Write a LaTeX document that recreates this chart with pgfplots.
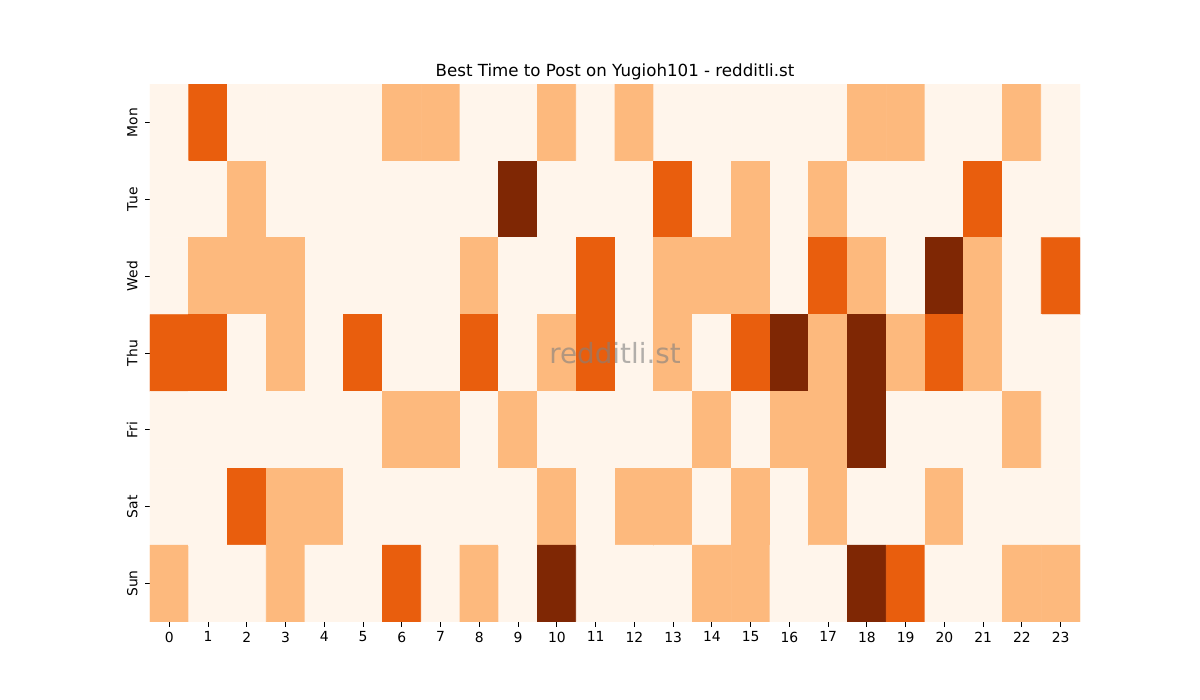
\documentclass[border=0pt]{standalone}
\usepackage{fontspec}
\setmainfont{DejaVu Sans}
\usepackage{pgfplots}
\pgfplotsset{compat=1.18}
\begin{document}
\begin{tikzpicture}
\begin{axis}[
  scale only axis,
  width=669.6pt, height=387.36pt,
  xmin=-0.5, xmax=23.5, ymin=-0.5, ymax=6.5,
  y dir=reverse,
  enlargelimits=false,
  axis line style={draw=none},
  xtick={0,...,23},
  ytick={0,...,6},
  yticklabels={Mon,Tue,Wed,Thu,Fri,Sat,Sun},
  yticklabel style={rotate=90, anchor=south, yshift=2pt, font=\fontsize{10}{12}\selectfont},
  xticklabel style={font=\fontsize{10}{12}\selectfont},
  /pgf/number format/assume math mode=true,
  tick align=outside,
  xtick pos=bottom, ytick pos=left,
  major tick length=3.5pt,
  tick style={black, line width=0.6pt},
  title={Best Time to Post on Yugioh101 - redditli.st},
  title style={font=\fontsize{12}{14}\selectfont, yshift=-6.3pt},
  colormap={heat}{rgb255=(255,245,235) rgb255=(253,185,125) rgb255=(233,94,13) rgb255=(127,39,4)},
  point meta min=0, point meta max=3,
]
\addplot[matrix plot*, mesh/cols=24, point meta=explicit] table[meta=c] {
x y c
0 0 0
1 0 2
2 0 0
3 0 0
4 0 0
5 0 0
6 0 1
7 0 1
8 0 0
9 0 0
10 0 1
11 0 0
12 0 1
13 0 0
14 0 0
15 0 0
16 0 0
17 0 0
18 0 1
19 0 1
20 0 0
21 0 0
22 0 1
23 0 0
0 1 0
1 1 0
2 1 1
3 1 0
4 1 0
5 1 0
6 1 0
7 1 0
8 1 0
9 1 3
10 1 0
11 1 0
12 1 0
13 1 2
14 1 0
15 1 1
16 1 0
17 1 1
18 1 0
19 1 0
20 1 0
21 1 2
22 1 0
23 1 0
0 2 0
1 2 1
2 2 1
3 2 1
4 2 0
5 2 0
6 2 0
7 2 0
8 2 1
9 2 0
10 2 0
11 2 2
12 2 0
13 2 1
14 2 1
15 2 1
16 2 0
17 2 2
18 2 1
19 2 0
20 2 3
21 2 1
22 2 0
23 2 2
0 3 2
1 3 2
2 3 0
3 3 1
4 3 0
5 3 2
6 3 0
7 3 0
8 3 2
9 3 0
10 3 1
11 3 2
12 3 0
13 3 1
14 3 0
15 3 2
16 3 3
17 3 1
18 3 3
19 3 1
20 3 2
21 3 1
22 3 0
23 3 0
0 4 0
1 4 0
2 4 0
3 4 0
4 4 0
5 4 0
6 4 1
7 4 1
8 4 0
9 4 1
10 4 0
11 4 0
12 4 0
13 4 0
14 4 1
15 4 0
16 4 1
17 4 1
18 4 3
19 4 0
20 4 0
21 4 0
22 4 1
23 4 0
0 5 0
1 5 0
2 5 2
3 5 1
4 5 1
5 5 0
6 5 0
7 5 0
8 5 0
9 5 0
10 5 1
11 5 0
12 5 1
13 5 1
14 5 0
15 5 1
16 5 0
17 5 1
18 5 0
19 5 0
20 5 1
21 5 0
22 5 0
23 5 0
0 6 1
1 6 0
2 6 0
3 6 1
4 6 0
5 6 0
6 6 2
7 6 0
8 6 1
9 6 0
10 6 3
11 6 0
12 6 0
13 6 0
14 6 1
15 6 1
16 6 0
17 6 0
18 6 3
19 6 2
20 6 0
21 6 0
22 6 1
23 6 1
};
\node[text=gray, opacity=0.6, font=\fontsize{20}{24}\selectfont] at (rel axis cs:0.5,0.5) {redditli.st};
\end{axis}
\path ([xshift=-108pt,yshift=-56.16pt]current axis.south west) rectangle ([xshift=86.4pt,yshift=60.48pt]current axis.north east);
\end{tikzpicture}
\end{document}
